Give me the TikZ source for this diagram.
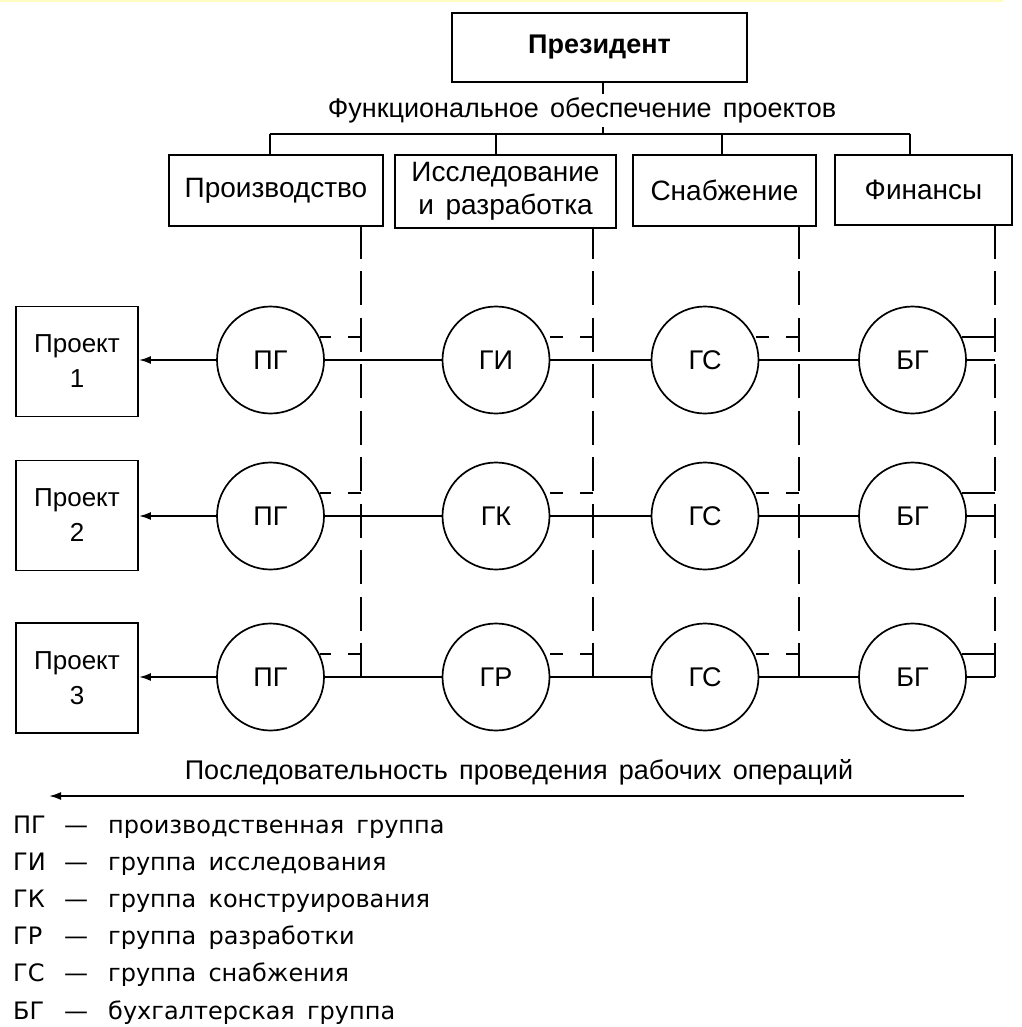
\documentclass[tikz,border=0pt]{standalone}
\usepackage{fontspec}
\setmainfont{Liberation Sans}[WordSpace=1.5]
\newfontfamily\legendfont{DejaVu Sans}[WordSpace=1.6]
\usetikzlibrary{arrows.meta}

\begin{document}
\begin{tikzpicture}[x=1pt,y=-1pt,
  box/.style={draw, line width=1.9pt, inner sep=0pt, align=center},
  head/.style={box, font=\fontsize{28}{33}\selectfont},
  proj/.style={box, minimum width=122pt, minimum height=110pt, font=\fontsize{26}{35}\selectfont},
  grp/.style={draw, circle, line width=1.7pt, minimum size=107pt, inner sep=0pt, font=\fontsize{27}{30}\selectfont},
  link/.style={line width=1.9pt},
  flow/.style={line width=1.9pt, -{Latex[length=12pt,width=8pt]}},
  duty/.style={line width=1.9pt, dash pattern=on 34pt off 12.5pt},
  tap/.style={line width=1.9pt, dash pattern=on 13pt off 17pt},
  caption/.style={inner sep=0pt, font=\fontsize{27}{32}\selectfont},
  legend/.style={anchor=west, inner sep=0pt, text height=17pt, text depth=5pt,
                 font=\legendfont\fontsize{24}{28}\selectfont},
]
\useasboundingbox (0,0) rectangle (1021,1027);
\fill[yellow!25] (0,0) rectangle (1003,2.5);

% management level
\node[box, minimum width=295pt, minimum height=69pt, font=\bfseries\fontsize{27}{32}\selectfont]
  (pres) at (599.5,47.5) {Президент};
\node[caption] (func) at (582,110) {Функциональное обеспечение проектов};

\node[head, minimum width=214pt, minimum height=71pt] (prod) at (276,190.5) {Производство};
\node[head, minimum width=221pt, minimum height=73pt] (issl) at (505.5,191.5) {Исследование\\и разработка};
\node[head, minimum width=183pt, minimum height=71pt] (snab) at (724.5,190.5) {Снабжение};
\node[head, minimum width=177pt, minimum height=70pt] (fin) at (923.5,190) {Финансы};

\coordinate (hub) at (603,134);
\coordinate (b1) at (270,134);
\coordinate (b2) at (496,134);
\coordinate (b3) at (722,134);
\coordinate (b4) at (910,134);
\draw[link] (pres.south -| hub) -- ++(0,11);
\draw[link] (hub) -- ++(0,-7);
\draw[link] (b1) -- (b4);
\draw[link] (b1) -- (b1 |- prod.north);
\draw[link] (b2) -- (b2 |- issl.north);
\draw[link] (b3) -- (b3 |- snab.north);
\draw[link] (b4) -- (b4 |- fin.north);

% projects
\node[proj] (p1) at (77,361.5) {Проект\\1};
\node[proj] (p2) at (77,515.5) {Проект\\2};
\node[proj] (p3) at (77,678) {Проект\\3};

% project groups
\node[grp] (g11) at (270.5,360) {ПГ};
\node[grp] (g12) at (496,360) {ГИ};
\node[grp] (g13) at (705,360) {ГС};
\node[grp] (g14) at (912.5,360) {БГ};
\node[grp] (g21) at (270.5,516) {ПГ};
\node[grp] (g22) at (496,516) {ГК};
\node[grp] (g23) at (705,516) {ГС};
\node[grp] (g24) at (912.5,516) {БГ};
\node[grp] (g31) at (270.5,677) {ПГ};
\node[grp] (g32) at (496,677) {ГР};
\node[grp] (g33) at (705,677) {ГС};
\node[grp] (g34) at (912.5,677) {БГ};

% functional lines down to the groups
\coordinate (v1) at (361,677);
\coordinate (v2) at (593,677);
\coordinate (v3) at (799,677);
\coordinate (v4) at (995,677);
\draw[duty] (v1) -- (v1 |- prod.south);
\draw[duty] (v2) -- (v2 |- issl.south);
\draw[duty] (v3) -- (v3 |- snab.south);
\draw[duty] (v4) -- (v4 |- fin.south);

% workflow along each project
\foreach \r in {1,2,3} {
  \draw[flow] (g\r1.west) -- (g\r1.west -| p\r.east);
  \draw[link] (g\r1) -- (g\r2);
  \draw[link] (g\r2) -- (g\r3);
  \draw[link] (g\r3) -- (g\r4);
  \draw[link] (g\r4.east) -- (g\r4.east -| v4);
  \draw[tap] (g\r1.25 -| v1) -- (g\r1.25);
  \draw[tap] (g\r2.25 -| v2) -- (g\r2.25);
  \draw[tap] (g\r3.25 -| v3) -- (g\r3.25);
  \draw[link] (g\r4.25 -| v4) -- (g\r4.25);
}
\draw[link] (g34.25 -| v4) -- (v4);

% sequence of operations
\coordinate (seqR) at (964,796);
\coordinate (seqL) at (49,796);
\node[caption] (seq) at (519,772) {Последовательность проведения рабочих операций};
\draw[flow] (seqR) -- (seqL);

% legend
\foreach \ab/\txt [count=\i from 0] in {ПГ/производственная группа, ГИ/группа исследования,
    ГК/группа конструирования, ГР/группа разработки, ГС/группа снабжения, БГ/бухгалтерская группа} {
  \node[legend] (ab\i) at (13,827+37.2*\i) {\ab};
  \node[legend] (dash\i) at (64,827+37.2*\i) {—};
  \node[legend] (txt\i) at (108,827+37.2*\i) {\txt};
}
\end{tikzpicture}
\end{document}
